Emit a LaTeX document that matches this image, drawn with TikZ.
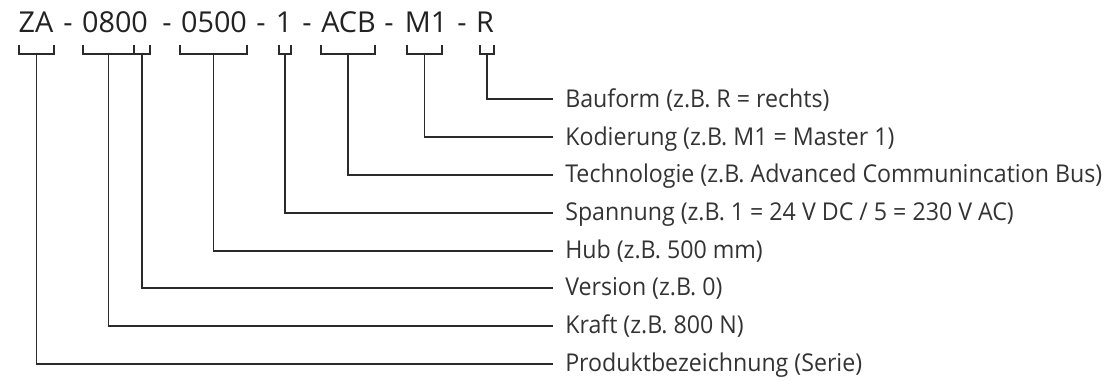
\documentclass[tikz,border=0pt]{standalone}
\usepackage{fontspec}
\setmainfont{Open Sans}
\newfontfamily\lblfont[FakeStretch=0.945]{Open Sans}
\definecolor{txt}{HTML}{333333}
\definecolor{ttl}{HTML}{222222}
\definecolor{ln}{HTML}{2A2A2A}
\begin{document}
\begin{tikzpicture}[x=0.75pt,y=-0.75pt,
  lbl/.style={anchor=west, inner xsep=9pt, inner ysep=0pt, text height=14pt, text depth=2.4pt,
    font=\lblfont\fontsize{18.4}{22}\selectfont, text=txt},
  part/.style={anchor=base, inner sep=0pt, font=\fontsize{21.6}{26}\selectfont, text=ttl},
  conn/.style={line width=1.3pt, draw=ln},
  brk/.style={line width=0.8pt, draw=ln}]
\useasboundingbox (0,0) rectangle (1109,381);
% title, set part by part over its brackets
\node[part] (t1) at (36,32.5)   {ZA};
\node[part] (h1) at (68,32.5)   {-};
\node[part] (t2) at (115,32.5)  {0800};
\node[part] (h2) at (167,32.5)  {-};
\node[part] (t3) at (214,32.5)  {0500};
\node[part] (h3) at (261,32.5)  {-};
\node[part] (t4) at (284,32.5)  {1};
\node[part] (h4) at (307,32.5)  {-};
\node[part] (t5) at (348.5,32.5){ACB};
\node[part] (h5) at (389,32.5)  {-};
\node[part] (t6) at (426,32.5)  {M1};
\node[part] (h6) at (462,32.5)  {-};
\node[part] (t7) at (485,32.5)  {R};
% brackets
\draw[brk] (19,45) |- (54,54) -- (54,45);
\draw[brk] (83,45) |- (150,54) -- (150,45);
\draw[brk] (134,45) -- (134,54);
\draw[brk] (180,45) |- (247,54) -- (247,45);
\draw[brk] (279,45) |- (291,54) -- (291,45);
\draw[brk] (321,45) |- (375,54) -- (375,45);
\draw[brk] (407,45) |- (442,54) -- (442,45);
\draw[brk] (480,45) |- (494,54) -- (494,45);
% stem starts
\coordinate (s1) at (36.5,54);
\coordinate (s2) at (108.5,54);
\coordinate (s3) at (142,54);
\coordinate (s4) at (213.5,54);
\coordinate (s5) at (285,54);
\coordinate (s6) at (348,54);
\coordinate (s7) at (424.5,54);
\coordinate (s8) at (487,54);
% labels
\node[lbl] (l8) at (553,99.3)  {Bauform (z.B. R = rechts)};
\node[lbl] (l7) at (553,137.3) {Kodierung (z.B. M1 = Master 1)};
\node[lbl] (l6) at (553,175)   {Technologie (z.B. Advanced Communincation Bus)};
\node[lbl] (l5) at (553,212.7) {Spannung (z.B. 1 = 24 V DC / 5 = 230 V AC)};
\node[lbl] (l4) at (553,250.7) {Hub (z.B. 500 mm)};
\node[lbl] (l3) at (553,288)   {Version (z.B. 0)};
\node[lbl] (l2) at (553,326)   {Kraft (z.B. 800 N)};
\node[lbl] (l1) at (553,364)   {Produktbezeichnung (Serie)};
% connectors
\foreach \i in {1,...,8} { \draw[conn] (s\i) |- (l\i.west); }
\end{tikzpicture}
\end{document}
